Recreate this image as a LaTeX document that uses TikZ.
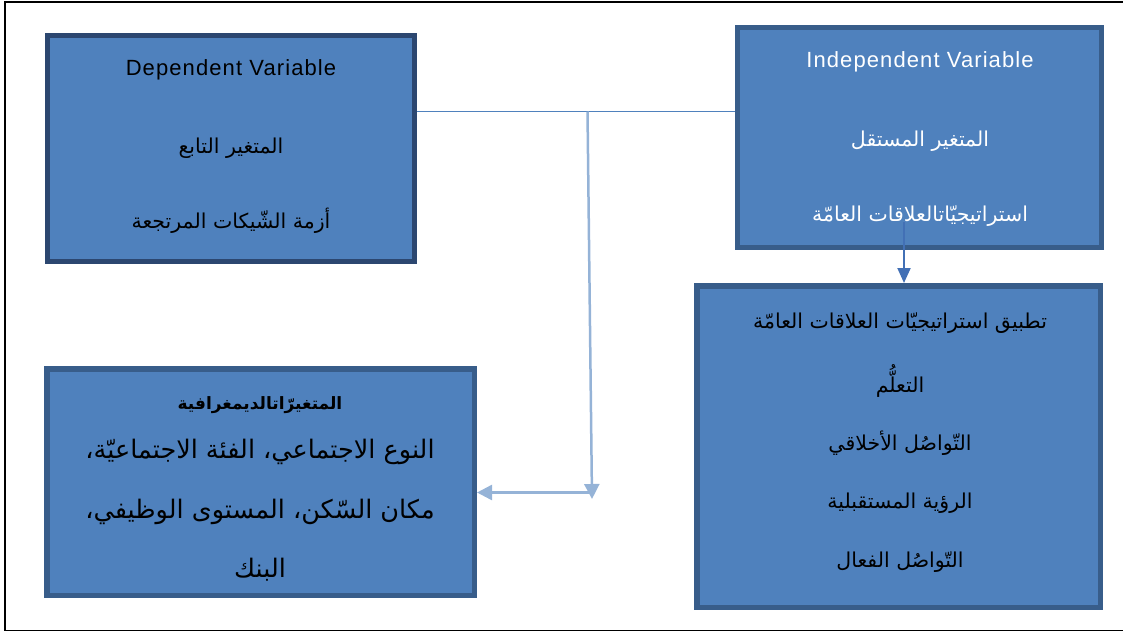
\documentclass[tikz,border=0pt]{standalone}
\usepackage{fontspec}
\setmainfont{Liberation Sans}
\newfontfamily\arabicfont[Script=Arabic]{DejaVu Sans}
\newfontfamily\latinsp[LetterSpace=5]{Liberation Sans}
\TeXXeTstate=1
\usetikzlibrary{arrows.meta}
\definecolor{boxfill}{HTML}{4F81BD}
\definecolor{boxline}{HTML}{385D8A}
\definecolor{boxdark}{HTML}{2C4770}
\definecolor{thinline}{HTML}{4F81BD}
\definecolor{lightarr}{HTML}{95B3D7}
\definecolor{darkarr}{HTML}{4270B5}
\tikzset{
  vbox/.style={draw=boxline, fill=boxfill, line width=5.5pt, inner sep=0pt},
  entxt/.style={font=\latinsp\fontsize{22}{25}\selectfont, inner sep=0pt, anchor=center},
  artxt/.style={font=\arabicfont\fontsize{20.5}{24}\selectfont, inner sep=0pt, anchor=center},
  arapp/.style={font=\arabicfont\fontsize{20.5}{24}\selectfont, inner sep=0pt, anchor=center},
  arbig/.style={font=\arabicfont\fontsize{25.5}{29}\selectfont, inner sep=0pt, anchor=center},
  lightline/.style={draw=lightarr, line width=2.5pt, -{Triangle[length=15pt,width=15pt]}},
  darkline/.style={draw=darkarr, line width=2pt, -{Triangle[length=15pt,width=13pt]}},
}
\begin{document}
\begin{tikzpicture}[x=1pt,y=-1pt]
\useasboundingbox (0,0) rectangle (1123,632);
% outer frame
\draw[black, line width=1.6pt] (1123,2) -- (5,2) -- (5,630.5) -- (1123,630.5);

% boxes
\node[vbox, draw=boxdark, minimum width=367pt, minimum height=226pt] (dep) at (231,148.5) {};
\node[vbox, minimum width=364pt, minimum height=220pt] (ind) at (919.5,137.5) {};
\node[vbox, minimum width=403.5pt, minimum height=321.5pt] (app) at (898.5,446.5) {};
\node[vbox, minimum width=427.5pt, minimum height=226.5pt] (demo) at (260.5,482) {};

% dependent texts
\node[entxt] (dep1) at (231,70) {Dependent Variable};
\node[artxt] (dep2) at (231,148) {\beginR المتغير التابع\endR};
\node[artxt] (dep3) at (231,221) {\beginR أزمة الشّيكات المرتجعة\endR};

% independent texts
\node[entxt, text=white] (ind1) at (920,62) {Independent Variable};
\node[artxt, text=white] (ind2) at (920,141) {\beginR المتغير المستقل\endR};
\node[artxt, text=white] (ind3) at (920,216) {\beginR استراتيجيّاتالعلاقات العامّة\endR};

% application texts
\node[arapp] (app1) at (900,323) {\beginR تطبيق استراتيجيّات العلاقات العامّة\endR};
\node[arapp] (app2) at (900,381) {\beginR التعلُّم\endR};
\node[arapp] (app3) at (900,443) {\beginR التّواصُل الأخلاقي\endR};
\node[arapp] (app4) at (900,503) {\beginR الرؤية المستقبلية\endR};
\node[arapp] (app5) at (900,562) {\beginR التّواصُل الفعال\endR};

% demographic texts
\node[artxt, font=\arabicfont\bfseries\fontsize{17}{21}\selectfont] (demo1) at (260,405) {\beginR المتغيرّاتالديمغرافية\endR};
\node[arbig] (demo2) at (260,452) {\beginR النوع الاجتماعي، الفئة الاجتماعيّة،\endR};
\node[arbig] (demo3) at (260,512) {\beginR مكان السّكن، المستوى الوظيفي،\endR};
\node[arbig] (demo4) at (260,570) {\beginR البنك\endR};

% connectors
\coordinate (j) at (587.5,111.5);
\coordinate (jt) at (592,499);
\coordinate (k) at (590,492.5);
\draw[draw=thinline, line width=1.8pt] (j -| dep.east) -- (j -| ind.west);
\draw[lightline] (j) -- (jt);
\draw[lightline] (k) -- (k -| demo.east);
\coordinate (m) at (904,222);
\draw[darkline] (m) -- (m |- app.north);
\end{tikzpicture}
\end{document}
